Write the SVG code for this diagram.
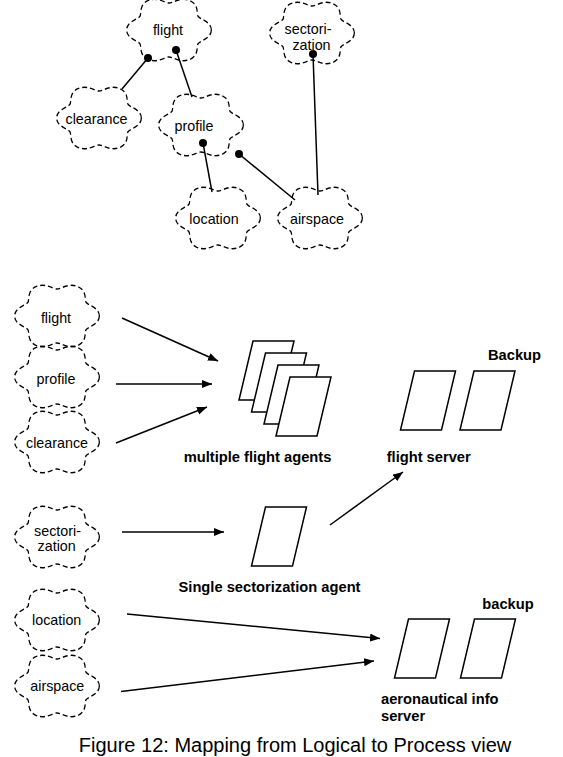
<svg xmlns="http://www.w3.org/2000/svg" xmlns:xlink="http://www.w3.org/1999/xlink" width="563" height="757" viewBox="0 0 563 757">
<style>
.cloud{fill:none;stroke:#000;stroke-width:1.3;stroke-dasharray:5 3}
.lbl{font-family:"Liberation Sans",Arial,sans-serif;font-size:14.3px;fill:#000;text-anchor:middle}
.bold{font-family:"Liberation Sans",Arial,sans-serif;font-size:14.7px;font-weight:bold;fill:#000}
.proc{fill:#fff;stroke:#000;stroke-width:1.5}
.ln{stroke:#000;stroke-width:1.5;fill:none}
.arr{stroke:#000;stroke-width:1.5;fill:none;marker-end:url(#ah)}
.cap{font-family:"Liberation Sans",Arial,sans-serif;font-size:20px;fill:#000;text-anchor:middle}
</style>
<defs>
<path id="cl" transform="scale(0.98,1.08)" d="M43.2,0 C43.2,7.83 31.86,9.88 29.79,12.47 C27.72,15.06 30.95,23.2 21.6,27.12 C12.25,31.04 4.13,24.94 0,24.94 C-4.13,24.94 -12.25,31.04 -21.6,27.12 C-30.95,23.2 -27.72,15.06 -29.79,12.47 C-31.86,9.88 -43.2,7.83 -43.2,0 C-43.2,-7.83 -31.86,-9.88 -29.79,-12.47 C-27.72,-15.06 -30.95,-23.2 -21.6,-27.12 C-12.25,-31.04 -4.13,-24.94 0,-24.94 C4.13,-24.94 12.25,-31.04 21.6,-27.12 C30.95,-23.2 27.72,-15.06 29.79,-12.47 C31.86,-9.88 43.2,-7.83 43.2,0 Z"/>
<polygon id="pg" points="0,0 41,0 27,59 -14,59"/>
<marker id="ah" markerUnits="userSpaceOnUse" markerWidth="11" markerHeight="9" refX="10" refY="4" orient="auto">
<path d="M0,0 L10,4 L0,8 z" fill="#000"/>
</marker>
</defs>

<g id="top-flight"><use href="#cl" x="169" y="30" class="cloud"/><text class="lbl" x="168" y="35">flight</text></g>
<g id="top-sectorization"><use href="#cl" x="312" y="33" class="cloud"/><text class="lbl" x="308" y="33.5">sectori-</text><text class="lbl" x="311.5" y="50">zation</text></g>
<g id="top-clearance"><use href="#cl" x="99" y="118" class="cloud"/><text class="lbl" x="96.5" y="124">clearance</text></g>
<g id="top-profile"><use href="#cl" x="201" y="125" class="cloud"/><text class="lbl" x="194" y="131">profile</text></g>
<g id="top-location"><use href="#cl" x="218" y="218" class="cloud"/><text class="lbl" x="214" y="224">location</text></g>
<g id="top-airspace"><use href="#cl" x="320" y="218" class="cloud"/><text class="lbl" x="317" y="224">airspace</text></g>

<g id="top-connectors">
<line class="ln" x1="148" y1="58" x2="122" y2="89"/>
<line class="ln" x1="176" y1="50" x2="192" y2="97"/>
<line class="ln" x1="203" y1="143" x2="212" y2="192"/>
<line class="ln" x1="239" y1="154" x2="295" y2="200"/>
<line class="ln" x1="313" y1="54" x2="318" y2="195"/>
<circle cx="148" cy="58" r="4" fill="#000"/>
<circle cx="176" cy="50" r="4" fill="#000"/>
<circle cx="203" cy="143" r="4" fill="#000"/>
<circle cx="239" cy="154" r="4" fill="#000"/>
<circle cx="313" cy="54" r="4" fill="#000"/>
</g>

<g id="b-flight"><use href="#cl" x="57" y="316" class="cloud"/><text class="lbl" x="56" y="323">flight</text></g>
<g id="b-profile"><use href="#cl" x="57" y="377" class="cloud"/><text class="lbl" x="56" y="384">profile</text></g>
<g id="b-clearance"><use href="#cl" x="57" y="442" class="cloud"/><text class="lbl" x="57" y="448">clearance</text></g>
<g id="b-sectorization"><use href="#cl" x="57" y="537" class="cloud"/><text class="lbl" x="57.5" y="535.5">sectori-</text><text class="lbl" x="56.7" y="551">zation</text></g>
<g id="b-location"><use href="#cl" x="57" y="620" class="cloud"/><text class="lbl" x="56.7" y="625">location</text></g>
<g id="b-airspace"><use href="#cl" x="57" y="686" class="cloud"/><text class="lbl" x="57.3" y="691">airspace</text></g>

<g id="flight-agents">
<use href="#pg" x="253" y="341" class="proc"/>
<use href="#pg" x="265.5" y="353" class="proc"/>
<use href="#pg" x="278" y="365" class="proc"/>
<use href="#pg" x="290" y="377" class="proc"/>
<text class="bold" x="257.5" y="462" text-anchor="middle">multiple flight agents</text>
</g>
<g id="flight-server">
<use href="#pg" x="414.5" y="371" class="proc"/>
<text class="bold" x="428.7" y="462" text-anchor="middle">flight server</text>
</g>
<g id="flight-server-backup">
<use href="#pg" x="474" y="371" class="proc"/>
<text class="bold" x="514.5" y="360" text-anchor="middle">Backup</text>
</g>
<g id="sectorization-agent">
<use href="#pg" x="265.5" y="507" class="proc"/>
<text class="bold" x="269.5" y="592" text-anchor="middle">Single sectorization agent</text>
</g>
<g id="aero-server">
<use href="#pg" x="408.5" y="619" class="proc"/>
<text class="bold" x="381" y="704">aeronautical info</text>
<text class="bold" x="381" y="721">server</text>
</g>
<g id="aero-server-backup">
<use href="#pg" x="474.5" y="619" class="proc"/>
<text class="bold" x="508" y="609" text-anchor="middle">backup</text>
</g>

<g id="connectors">
<line class="arr" x1="122" y1="318" x2="218" y2="361"/>
<line class="arr" x1="116" y1="384" x2="212" y2="384"/>
<line class="arr" x1="116" y1="443" x2="207" y2="407"/>
<line class="arr" x1="122" y1="532" x2="224" y2="532"/>
<line class="arr" x1="330" y1="525" x2="403" y2="472"/>
<line class="arr" x1="127" y1="614" x2="380" y2="638.5"/>
<line class="arr" x1="121" y1="691.5" x2="374" y2="661"/>
</g>

<text class="cap" x="295" y="752">Figure 12: Mapping from Logical to Process view</text>
</svg>
